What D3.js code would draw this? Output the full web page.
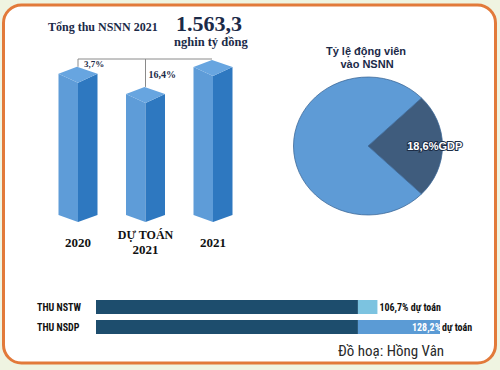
<!DOCTYPE html>
<html>
<head>
<meta charset="utf-8">
<script src="https://cdn.jsdelivr.net/npm/d3@7"></script>
<style>
  body { margin: 0; background: #eff4e1; }
  svg { display: block; }
</style>
</head>
<body>
<svg id="chart" width="500" height="370"></svg>
<script>
// column chart: total state budget revenue (nghìn tỷ đồng)
const years = ['2020', 'DỰ TOÁN 2021', '2021']
const revenue = [1507.6, 1343.3, 1563.3]
const growthLabels = ['3,7%', '16,4%']

// pie: share drawn for the mobilisation rate
const pieNames = ['GDP', 'khác']
const pieShares = [24.5, 75.5]
const pieLabel = '18,6%GDP'

// horizontal bars: percent of estimate
const rows = ['THU NSTW', 'THU NSDP']
const rowValues = [106.7, 128.2]
const rowBase = 100

const navy = '#1b2a48'
const svg = d3.select('#chart')

svg.append('rect')
  .attr('x', 3.5).attr('y', 5)
  .attr('width', 492).attr('height', 358)
  .attr('rx', 18)
  .attr('fill', '#fff')
  .attr('stroke', '#e27a3a')
  .attr('stroke-width', 3)

// ---- header
const serif = '"Liberation Serif", "DejaVu Serif", serif'
svg.append('text')
  .attr('x', 48).attr('y', 31)
  .style('font', `bold 12px ${serif}`)
  .attr('fill', navy)
  .text('Tổng thu NSNN 2021')
svg.append('text')
  .attr('x', 176).attr('y', 31)
  .style('font', `bold 22px ${serif}`)
  .attr('fill', navy)
  .text('1.563,3')
svg.append('text')
  .attr('x', 174).attr('y', 46)
  .style('font', `bold 12.5px ${serif}`)
  .attr('fill', navy)
  .text('nghin tỷ đồng')

// ---- 3D columns
const x = d3.scalePoint().domain(years).range([78, 213])
const y = d3.scaleLinear().domain([370, 1563.3]).range([222, 76])
const half = 19.5
const rise = 9
const baseY = y.range()[0]

const cols = years.map((k, i) => ({ key: k, value: revenue[i] }))
const colG = svg.append('g').selectAll('g').data(cols).join('g')

colG.append('path')
  .attr('fill', '#5e9cd8')
  .attr('d', d => {
    const c = x(d.key), t = y(d.value)
    return `M${c - half},${t - rise}L${c},${t}L${c},${baseY}L${c - half},${baseY - 7}Z`
  })
colG.append('path')
  .attr('fill', '#2e78c0')
  .attr('d', d => {
    const c = x(d.key), t = y(d.value)
    return `M${c},${t}L${c + half},${t - rise}L${c + half},${baseY - 7}L${c},${baseY}Z`
  })
colG.append('path')
  .attr('fill', '#67a5e0')
  .attr('d', d => {
    const c = x(d.key), t = y(d.value)
    return `M${c - half},${t - rise}L${c - 1},${t - 16}L${c + half},${t - rise}L${c},${t}Z`
  })

// connector lines for growth rates
const peak = d => y(d.value) - 16
const lineY = peak(cols[2]) - 1
const link = svg.append('g').attr('stroke', '#8a8a8a').attr('stroke-width', 1).attr('fill', 'none')
link.append('path')
  .attr('d', `M${x(years[0])},${peak(cols[0])}V${lineY}H${x(years[2]) - 1}`)
link.append('path')
  .attr('d', `M${x(years[1])},${lineY}V${peak(cols[1])}`)

svg.append('text')
  .attr('x', x(years[0]) + 6).attr('y', 67)
  .style('font', `bold 9px ${serif}`)
  .attr('fill', navy)
  .text(growthLabels[0])
svg.append('text')
  .attr('x', x(years[1]) + 3).attr('y', 78)
  .style('font', `bold 10px ${serif}`)
  .attr('fill', navy)
  .text(growthLabels[1])

// category labels
colG.append('text')
  .attr('text-anchor', 'middle')
  .attr('fill', '#111')
  .style('font', `bold 13px ${serif}`)
  .each(function (d) {
    const parts = d.key.split(' ')
    const c = x(d.key)
    if (parts.length === 1) {
      d3.select(this).append('tspan').attr('x', c).attr('y', 247).text(d.key)
    } else {
      d3.select(this).append('tspan').attr('x', c).attr('y', 239)
        .style('font-size', '12px').text(parts.slice(0, 2).join(' '))
      d3.select(this).append('tspan').attr('x', c).attr('y', 254).text(parts[2])
    }
  })

// ---- pie
const sans = '"Liberation Sans", Arial, sans-serif'
svg.append('text')
  .attr('text-anchor', 'middle')
  .attr('fill', navy)
  .style('font', `bold 11px ${sans}`)
  .call(t => {
    t.append('tspan').attr('x', 366).attr('y', 55).text('Tỷ lệ động viên')
    t.append('tspan').attr('x', 367).attr('y', 68).text('vào NSNN')
  })

const r = 74.5
const pieData = pieNames.map((n, i) => ({ name: n, value: pieShares[i] }))
const total = d3.sum(pieShares)
const pie = d3.pie().sort(null).value(d => d.value)
  .startAngle(Math.PI / 2 - Math.PI * pieShares[0] / total)
  .endAngle(Math.PI / 2 - Math.PI * pieShares[0] / total + 2 * Math.PI)
const arc = d3.arc().innerRadius(0).outerRadius(r)
const pieG = svg.append('g').attr('transform', 'translate(368,146) scale(1,0.926)')
const arcs = pie(pieData)
pieG.selectAll('path').data(arcs).join('path')
  .attr('d', arc)
  .attr('fill', (d, i) => i === 0 ? '#3f5c7d' : '#5e9bd6')
  .attr('stroke', '#3a6797')
  .attr('stroke-width', 0.8)

const cen = arc.centroid(arcs[0])
svg.append('text')
  .attr('x', 368 + cen[0] + 2).attr('y', 146 + cen[1] * 0.926 + 4)
  .style('font', `bold 11px ${sans}`)
  .attr('fill', '#fff')
  .attr('stroke', '#1c2c45')
  .attr('stroke-width', 2)
  .attr('paint-order', 'stroke')
  .text(pieLabel)

// ---- horizontal bars
const narrow = '"Liberation Sans Narrow", "Arial Narrow", "Roboto Condensed", sans-serif'
const hx = d3.scaleLinear().domain([10, 128.2]).range([96, 440])
const hy = d3.scaleBand().domain(rows).range([294, 340]).padding(0.3)
const extColors = ['#7cc3e0', '#5b9bd5']

const rowG = svg.append('g').selectAll('g')
  .data(rows.map((k, i) => ({ key: k, value: rowValues[i], i })))
  .join('g')

rowG.append('rect')
  .attr('x', hx(10)).attr('y', d => hy(d.key))
  .attr('width', hx(rowBase) - hx(10))
  .attr('height', hy.bandwidth())
  .attr('fill', '#1d4d6d')
rowG.append('rect')
  .attr('x', hx(rowBase)).attr('y', d => hy(d.key))
  .attr('width', d => hx(d.value) - hx(rowBase))
  .attr('height', hy.bandwidth())
  .attr('fill', d => extColors[d.i])
rowG.append('text')
  .attr('x', 37).attr('y', d => hy(d.key) + 11)
  .style('font', `bold 10px ${narrow}`)
  .attr('fill', '#111')
  .text(d => d.key)

const pct = v => d3.format('.1f')(v).replace('.', ',') + '%'
rowG.append('text')
  .attr('y', d => hy(d.key) + 11)
  .style('font', `bold 10px ${narrow}`)
  .each(function (d) {
    const t = d3.select(this)
    if (d.i === 0) {
      t.attr('x', hx(d.value) + 2).attr('fill', '#111')
      t.append('tspan').text(pct(d.value) + ' dự toán')
    } else {
      t.attr('x', hx(d.value) - 28).attr('fill', '#fff')
      t.append('tspan').text(pct(d.value))
      t.append('tspan').attr('x', hx(d.value) + 2).attr('fill', '#111').text('dự toán')
    }
  })

svg.append('text')
  .attr('x', 338).attr('y', 356)
  .style('font', `15px ${narrow}`)
  .attr('fill', '#2a2a2a')
  .text('Đồ hoạ: Hồng Vân')
</script>
</body>
</html>
